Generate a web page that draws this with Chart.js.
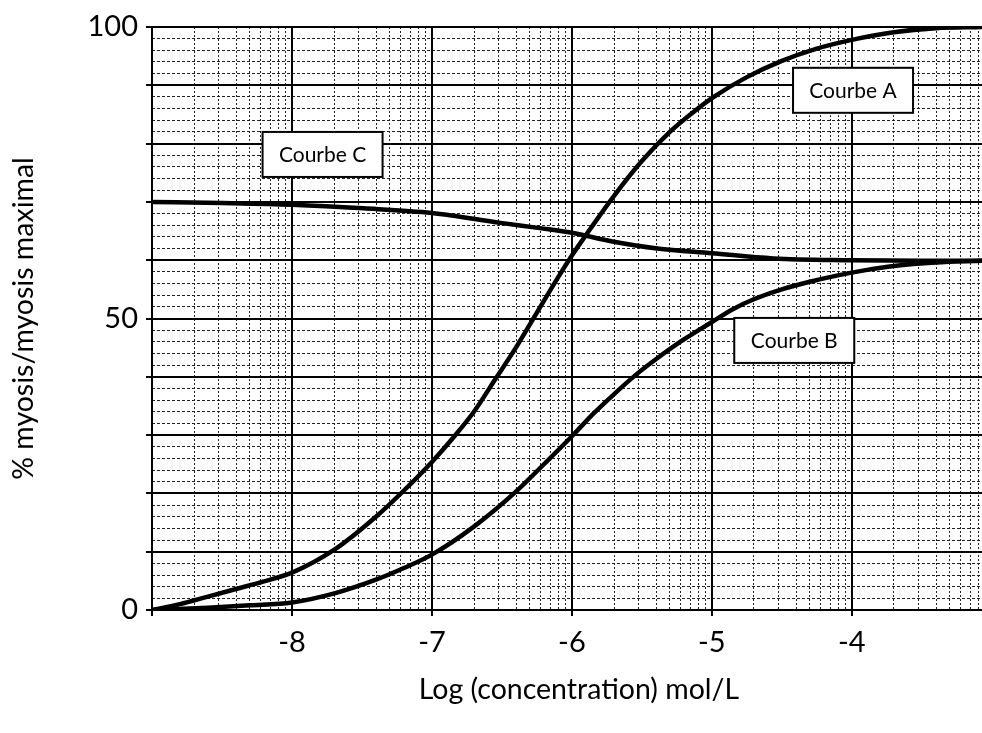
<!DOCTYPE html>
<html>
<head>
<meta charset="utf-8">
<script src="https://cdn.jsdelivr.net/npm/chart.js@4/dist/chart.umd.min.js"></script>
<style>
  html, body { margin: 0; padding: 0; background: #fff; }
  #wrap { width: 982px; height: 733px; }
</style>
</head>
<body>
<div id="wrap"><canvas id="chart" width="982" height="733"></canvas></div>
<script>
// values: log10 concentration -> % myosis
const logConcA = [-9, -8.8, -8.6, -8.4, -8.2, -8, -7.7, -7.4, -7.2, -7, -6.85, -6.7, -6.55, -6.4, -6.25, -6.1, -6, -5.9, -5.7, -5.5, -5.3, -5.1, -5, -4.75, -4.5, -4.25, -4, -3.7, -3.4, -3.07];
const myosisA  = [0, 1, 2.3, 3.6, 4.9, 6.4, 10.3, 16, 20.5, 25.4, 29.5, 34, 39.5, 45, 51, 57, 60.8, 64.3, 71, 77, 82, 86, 87.8, 91.4, 94.2, 96.3, 97.8, 99.1, 99.8, 100];

const logConcB = [-9, -8.6, -8.3, -8, -7.69, -7.4, -7.2, -7, -6.7, -6.4, -6.2, -6, -5.85, -5.7, -5.55, -5.4, -5.2, -5, -4.85, -4.7, -4.5, -4.3, -4.1, -3.9, -3.7, -3.4, -3.07];
const myosisB  = [0, 0.4, 0.8, 1.3, 2.9, 5.2, 7.2, 9.5, 14.3, 20.3, 25, 29.8, 33.6, 37, 40.2, 43, 46.4, 49.4, 51.6, 53.3, 55, 56.3, 57.4, 58.3, 59, 59.6, 59.9];

const logConcC = [-9, -8.5, -8, -7.49, -7, -6.51, -6.23, -6, -5.71, -5.39, -5, -4.56, -4, -3.5, -3.07];
const myosisC  = [70, 69.8, 69.5, 68.9, 68.1, 66.4, 65.5, 64.7, 63.2, 62, 61.2, 60.3, 60, 59.9, 59.9];

const curveNames = ['Courbe A', 'Courbe B', 'Courbe C'];

// axis ticks
const xMajor = [-9, -8, -7, -6, -5, -4];
const xTickLabels = ['', '-8', '-7', '-6', '-5', '-4'];
const yLabelled = [0, 50, 100];

// log-paper sub-divisions inside each decade, y every 2 %
const xMinor = [];
xMajor.forEach(d => { for (let k = 2; k <= 9; k++) xMinor.push(d + Math.log10(k)); });
const yMinor = [];
for (let v = 0; v <= 100; v += 2) yMinor.push(v);

// where the boxed curve names sit (data units, top-left corner)
const noteX = [-4.42, -4.84, -8.21];
const noteY = [93.0, 50.1, 82.0];

const toPoints = (xs, ys) => xs.map((x, i) => ({ x: x, y: ys[i] }));

const FONT = 'Lato, "Open Sans", sans-serif';
Chart.defaults.font.family = FONT;
Chart.defaults.color = '#000';

const notesPlugin = {
  id: 'notes',
  afterDatasetsDraw(chart) {
    const { ctx, scales } = chart;
    ctx.save();
    curveNames.forEach((name, i) => {
      const left = scales.x.getPixelForValue(noteX[i]);
      const top = scales.y.getPixelForValue(noteY[i]);
      ctx.fillStyle = '#fff';
      ctx.fillRect(left, top, 120, 45);
      ctx.strokeStyle = '#000';
      ctx.lineWidth = 2;
      ctx.strokeRect(left, top, 120, 45);
      ctx.fillStyle = '#000';
      ctx.font = '21px ' + FONT;
      ctx.textAlign = 'center';
      ctx.textBaseline = 'middle';
      ctx.fillText(name, left + 60, top + 23);
    });
    ctx.restore();
  },
  afterDraw(chart) {
    const { ctx, scales } = chart;
    ctx.save();
    ctx.fillStyle = '#000';
    ctx.font = '28.5px ' + FONT;
    ctx.textAlign = 'center';
    ctx.textBaseline = 'middle';
    ctx.fillText('Log (concentration) mol/L', scales.x.getPixelForValue(-5.95), 690);
    ctx.restore();
  }
};

const lineStyle = {
  borderColor: '#000',
  borderWidth: 4.5,
  pointRadius: 0,
  fill: false,
  cubicInterpolationMode: 'monotone'
};

new Chart(document.getElementById('chart'), {
  type: 'line',
  data: {
    datasets: [
      Object.assign({ label: curveNames[0], data: toPoints(logConcA, myosisA) }, lineStyle),
      Object.assign({ label: curveNames[1], data: toPoints(logConcB, myosisB) }, lineStyle),
      Object.assign({ label: curveNames[2], data: toPoints(logConcC, myosisC) }, lineStyle)
    ]
  },
  options: {
    responsive: false,
    animation: false,
    devicePixelRatio: 1,
    layout: { padding: { top: 27, left: 0, right: 0, bottom: 0 } },
    plugins: { legend: { display: false }, tooltip: { enabled: false } },
    scales: {
      xMinor: {
        type: 'linear', position: 'bottom', min: -9, max: -3.07,
        afterBuildTicks: s => { s.ticks = xMinor.map(v => ({ value: v })); },
        ticks: { display: false, autoSkip: false },
        grid: { color: '#222', lineWidth: 1, drawTicks: false },
        border: { display: false, dash: [2, 2] },
        afterFit: s => { s.height = 0; }
      },
      yMinor: {
        type: 'linear', position: 'left', min: 0, max: 100,
        afterBuildTicks: s => { s.ticks = yMinor.map(v => ({ value: v })); },
        ticks: { display: false, autoSkip: false },
        grid: { color: '#222', lineWidth: 1, drawTicks: false },
        border: { display: false, dash: [3, 2] },
        afterFit: s => { s.width = 0; }
      },
      x: {
        type: 'linear', position: 'bottom', min: -9, max: -3.07,
        afterBuildTicks: s => { s.ticks = xMajor.map(v => ({ value: v })); },
        ticks: {
          autoSkip: false, maxRotation: 0, padding: 9,
          font: { size: 29 },
          callback: (v, i) => xTickLabels[i]
        },
        grid: { color: '#000', lineWidth: 2, tickLength: 6 },
        border: { color: '#000', width: 2 },
        afterFit: s => { s.height = 123; }
      },
      y: {
        type: 'linear', position: 'left', min: 0, max: 100,
        ticks: {
          stepSize: 10, autoSkip: false, padding: 8,
          font: { size: 29 },
          callback: v => yLabelled.includes(v) ? String(v) : ''
        },
        grid: { color: '#000', lineWidth: 2, tickLength: 6 },
        border: { color: '#000', width: 2 },
        title: {
          display: true, text: '% myosis/myosis maximal',
          font: { size: 28.5 }, padding: { top: 7, bottom: 0 }
        },
        afterFit: s => { s.width = 152; }
      }
    }
  },
  plugins: [notesPlugin]
});
</script>
</body>
</html>
